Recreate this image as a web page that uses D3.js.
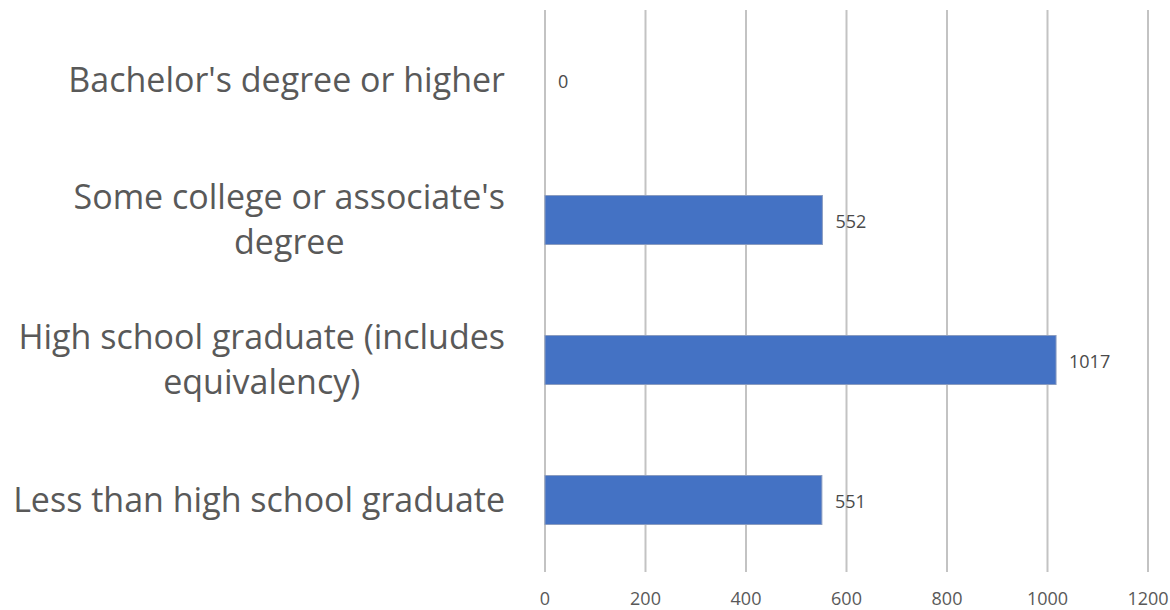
<!DOCTYPE html>
<html lang="en">
<head>
  <meta charset="UTF-8">
  <title>Educational Attainment Bar Chart</title>
  <script src="https://d3js.org/d3.v7.min.js"></script>
  <style>
    body { margin: 0; background: #fff; }
    svg { display: block; }
    .cat-label { font-family: "Open Sans", sans-serif; font-size: 34px; fill: #595959; }
    .tick-label { font-family: "Open Sans", sans-serif; font-size: 18px; fill: #595959; }
    .value-label { font-family: "Open Sans", sans-serif; font-size: 18px; fill: #4a4a4a; }
  </style>
</head>
<body>
<svg width="1170" height="610"></svg>

<script>
// data, top to bottom as drawn
const categories = [
  "Bachelor's degree or higher",
  "Some college or associate's degree",
  "High school graduate (includes equivalency)",
  "Less than high school graduate"
];
const values = [0, 552, 1017, 551];
const xTicks = [0, 200, 400, 600, 800, 1000, 1200];

const svg = d3.select("svg"),
      margin = { top: 10, right: 22, bottom: 40, left: 545 },
      width = +svg.attr("width") - margin.left - margin.right,
      height = +svg.attr("height") - margin.top - margin.bottom,
      g = svg.append("g").attr("transform", `translate(${margin.left},${margin.top})`);

const x = d3.scaleLinear().domain([0, 1200]).range([0, width]);
const y = d3.scaleBand().domain(categories).range([0, height]).paddingInner(0.65).paddingOuter(0.325);

// gridlines (run a little past the plot as tick marks)
g.selectAll(".grid")
  .data(xTicks)
  .enter().append("line")
  .attr("x1", d => x(d)).attr("x2", d => x(d))
  .attr("y1", 0).attr("y2", height + 2)
  .attr("stroke", "#c3c3c3")
  .attr("stroke-width", 2);

// tick labels
g.selectAll(".tick-label")
  .data(xTicks)
  .enter().append("text")
  .attr("class", "tick-label")
  .attr("x", d => x(d))
  .attr("y", height + 29)
  .attr("dy", "0.35em")
  .attr("text-anchor", "middle")
  .text(d => d);

// bars
g.selectAll(".bar")
  .data(categories)
  .enter().append("rect")
  .attr("x", x(0))
  .attr("y", d => y(d))
  .attr("width", (d, i) => x(values[i]) - x(0))
  .attr("height", y.bandwidth())
  .attr("fill", "#4472c4")
  .attr("stroke", "#8a9cc0")
  .attr("stroke-width", (d, i) => values[i] > 0 ? 1 : 0);

// value labels
g.selectAll(".value-label")
  .data(categories)
  .enter().append("text")
  .attr("class", "value-label")
  .attr("x", (d, i) => x(values[i]) + 13)
  .attr("y", d => y(d) + y.bandwidth() / 2 + 2)
  .attr("dy", "0.35em")
  .text((d, i) => values[i]);

// category labels, wrapped and centred within a right-aligned block
const wrapWidth = 495, lineHeight = 45, labelRight = -40;
categories.forEach(cat => {
  const t = g.append("text").attr("class", "cat-label").attr("text-anchor", "middle");
  const words = cat.split(" ");
  const lines = [];
  let cur = [];
  words.forEach(w => {
    cur.push(w);
    t.text(cur.join(" "));
    if (t.node().getComputedTextLength() > wrapWidth && cur.length > 1) {
      cur.pop();
      lines.push(cur.join(" "));
      cur = [w];
    }
  });
  lines.push(cur.join(" "));
  t.text(null);
  // block width = widest line
  let blockW = 0;
  lines.forEach(l => {
    t.text(l);
    blockW = Math.max(blockW, t.node().getComputedTextLength());
  });
  t.text(null);
  const cx = labelRight - blockW / 2;
  const cy = y(cat) + y.bandwidth() / 2;
  lines.forEach((l, i) => {
    t.append("tspan")
      .attr("x", cx)
      .attr("y", cy + (i - (lines.length - 1) / 2) * lineHeight)
      .attr("dy", "0.35em")
      .text(l);
  });
});
</script>
</body>
</html>
